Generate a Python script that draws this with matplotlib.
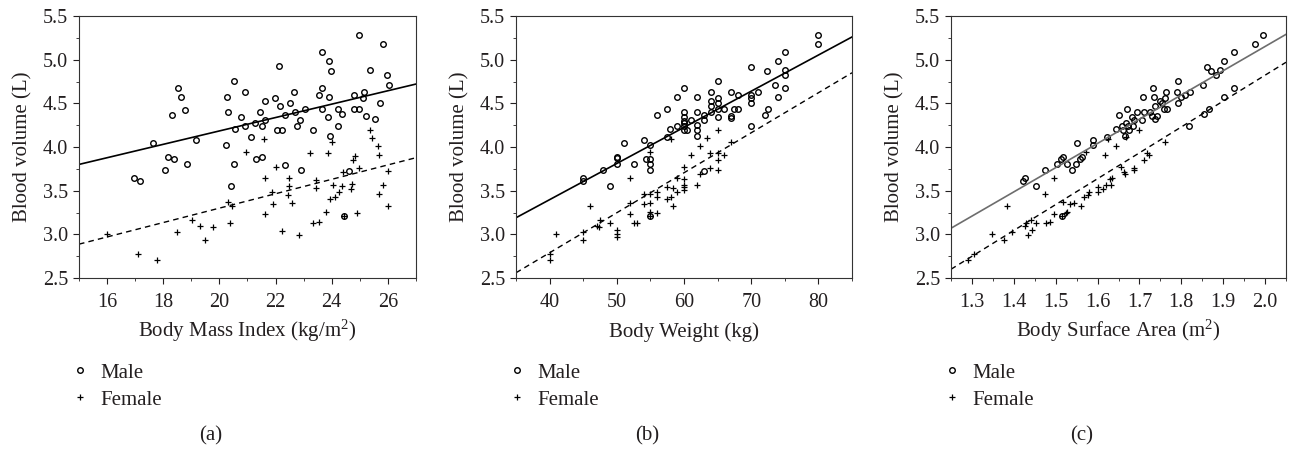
import numpy as np
import matplotlib
matplotlib.use('Agg')
import matplotlib.pyplot as plt
from matplotlib.lines import Line2D
from matplotlib.ticker import MultipleLocator, FormatStrFormatter

plt.rcParams['font.family'] = ['Liberation Serif', 'DejaVu Serif']
plt.rcParams['mathtext.fontset'] = 'custom'
plt.rcParams['mathtext.rm'] = 'Liberation Serif'
plt.rcParams['mathtext.it'] = 'Liberation Serif:italic'
textcol = '#231f20'

# (a) body mass index
bmi_male = [16.95, 17.16, 17.65, 18.08, 18.16, 18.30, 18.37, 18.54, 18.64, 18.79, 18.83, 19.15,
            20.22, 20.26, 20.30, 20.41, 20.52, 20.52, 20.57, 20.77, 20.92, 20.92, 21.13, 21.27,
            21.30, 21.46, 21.50, 21.53, 21.63, 21.64, 21.99, 22.06, 22.11, 22.16, 22.24, 22.33,
            22.33, 22.50, 22.65, 22.69, 22.77, 22.88, 22.91, 23.04, 23.34, 23.54, 23.67, 23.67,
            23.67, 23.87, 23.90, 23.90, 23.93, 23.96, 24.23, 24.23, 24.35, 24.45, 24.61, 24.80,
            24.80, 24.98, 24.98, 25.10, 25.16, 25.23, 25.36, 25.54, 25.72, 25.84, 25.95, 26.05]
bv_male_a = [3.64, 3.61, 4.05, 3.74, 3.89, 4.37, 3.86, 4.68, 4.57, 4.42, 3.80, 4.08,
             4.02, 4.57, 4.40, 3.55, 4.76, 3.80, 4.21, 4.34, 4.24, 4.63, 4.11, 4.27,
             3.86, 4.40, 3.88, 4.24, 4.31, 4.53, 4.56, 4.19, 4.93, 4.47, 4.20, 4.37,
             3.79, 4.50, 4.63, 4.40, 4.24, 4.31, 3.74, 4.44, 4.19, 4.60, 5.09, 4.67,
             4.44, 4.34, 4.99, 4.57, 4.13, 4.87, 4.43, 4.24, 4.38, 3.21, 3.73, 4.60,
             4.43, 5.28, 4.44, 4.56, 4.63, 4.35, 4.88, 4.32, 4.50, 5.18, 4.82, 4.71]
bmi_female = [16.01, 17.09, 17.78, 18.49, 19.04, 19.32, 19.48, 19.78, 20.32, 20.39, 20.44, 20.96,
              21.57, 21.64, 21.64, 21.89, 21.91, 22.03, 22.22, 22.45, 22.48, 22.48, 22.59, 22.83,
              23.22, 23.34, 23.43, 23.43, 23.55, 23.79, 23.87, 23.93, 24.02, 24.05, 24.13, 24.25,
              24.35, 24.41, 24.45, 24.67, 24.73, 24.74, 24.84, 24.90, 24.98, 25.36, 25.42, 25.66,
              25.70, 25.69, 25.82, 26.00, 26.00]
bv_female_a = [3.00, 2.78, 2.71, 3.03, 3.16, 3.09, 2.93, 3.08, 3.37, 3.13, 3.32, 3.94,
               4.09, 3.64, 3.23, 3.49, 3.35, 3.77, 3.04, 3.45, 3.64, 3.55, 3.36, 2.99,
               3.93, 3.13, 3.62, 3.53, 3.14, 3.26, 3.93, 3.41, 4.06, 3.57, 3.43, 3.48,
               3.55, 3.71, 3.21, 3.52, 3.58, 3.85, 3.90, 3.24, 3.76, 4.20, 4.10, 4.01,
               3.91, 3.46, 3.56, 3.73, 3.32]

# (b) body weight
bw_male = [45, 45, 48, 49, 50, 50, 50, 51, 52.5, 54, 54.4, 55, 55, 55, 55, 55,
           56, 57.4, 57.4, 57.9, 58.9, 58.9, 60, 60, 60, 60, 60, 60, 60, 60.4, 61,
           62, 62, 62, 62, 62, 63, 63, 63, 64, 64, 64, 64, 65, 65, 65, 65, 65, 66,
           67, 67, 67, 67.5, 68, 68, 70, 70, 70, 70, 70, 71, 72, 72.5, 72.4, 73.5,
           74, 74, 75, 75, 75, 75, 80, 80]
bv_male_b = [3.64, 3.61, 3.74, 3.55, 3.80, 3.87, 3.89, 4.05, 3.80, 4.08, 3.86, 4.02, 3.86, 3.80, 3.74, 3.21,
             4.37, 4.43, 4.11, 4.21, 4.57, 4.24, 4.68, 4.40, 4.34, 4.30, 4.27, 4.24, 4.20, 4.20, 4.31,
             4.57, 4.40, 4.25, 4.19, 4.13, 4.37, 4.31, 3.73, 4.63, 4.53, 4.47, 4.40, 4.76, 4.56, 4.50, 4.44, 4.34, 4.44,
             4.63, 4.36, 4.33, 4.43, 4.60, 4.44, 4.92, 4.60, 4.56, 4.50, 4.24, 4.63, 4.37, 4.43, 4.87, 4.71,
             4.99, 4.57, 5.09, 4.88, 4.82, 4.67, 5.28, 5.18]
bw_female = [40, 40, 41, 45, 45, 46, 47, 47.4, 47.5, 49, 50, 50, 50, 52, 52, 52, 52.5, 53,
             54, 54, 55, 55, 55, 55, 55, 56, 56, 56, 57.4, 57.5, 58, 58, 58.4, 58.4, 59, 59,
             60, 60, 60, 60, 60, 61, 62, 62.4, 62.4, 63.4, 63.9, 63.9, 65, 65, 65, 65, 66, 67]
bv_female_b = [2.78, 2.71, 3.00, 3.03, 2.93, 3.32, 3.09, 3.08, 3.16, 3.13, 3.05, 3.00, 2.97, 3.64, 3.36, 3.23, 3.13, 3.13,
               3.46, 3.35, 3.94, 3.46, 3.36, 3.26, 3.21, 3.49, 3.43, 3.24, 3.54, 3.41, 4.09, 3.43, 3.53, 3.32, 3.49, 3.64,
               3.77, 3.63, 3.57, 3.54, 3.51, 3.91, 3.56, 4.01, 3.69, 4.10, 3.93, 3.76, 4.20, 3.93, 3.85, 3.74, 3.91, 4.06]

# (c) body surface area
bsa_male = [1.422, 1.426, 1.453, 1.474, 1.504, 1.512, 1.518, 1.527, 1.514, 1.539, 1.549, 1.552,
            1.557, 1.564, 1.588, 1.588, 1.623, 1.645, 1.650, 1.659, 1.661, 1.666, 1.669, 1.671,
            1.675, 1.673, 1.683, 1.685, 1.687, 1.693, 1.706, 1.709, 1.712, 1.726, 1.730, 1.732,
            1.735, 1.738, 1.736, 1.741, 1.748, 1.753, 1.758, 1.762, 1.764, 1.766, 1.790, 1.792,
            1.792, 1.800, 1.808, 1.820, 1.818, 1.851, 1.855, 1.861, 1.866, 1.871, 1.883, 1.893,
            1.902, 1.902, 1.925, 1.925, 1.977, 1.994]
bv_male_c = [3.61, 3.64, 3.55, 3.74, 3.80, 3.86, 3.89, 3.80, 3.21, 3.74, 3.80, 4.05,
             3.86, 3.88, 4.08, 4.02, 4.11, 4.21, 4.37, 4.24, 4.19, 4.13, 4.28, 4.43,
             4.19, 4.24, 4.34, 4.24, 4.31, 4.40, 4.31, 4.57, 4.40, 4.40, 4.35, 4.67,
             4.57, 4.47, 4.32, 4.35, 4.53, 4.50, 4.44, 4.56, 4.63, 4.44, 4.63, 4.76,
             4.50, 4.57, 4.60, 4.63, 4.24, 4.71, 4.38, 4.92, 4.43, 4.87, 4.82, 4.88,
             4.99, 4.57, 5.09, 4.67, 5.18, 5.28]
bsa_female = [1.290, 1.304, 1.349, 1.377, 1.383, 1.396, 1.426, 1.428, 1.433, 1.442, 1.444, 1.452,
              1.475, 1.478, 1.486, 1.496, 1.496, 1.514, 1.518, 1.524, 1.528, 1.534, 1.543, 1.561,
              1.567, 1.573, 1.576, 1.579, 1.601, 1.601, 1.613, 1.618, 1.619, 1.625, 1.629, 1.632,
              1.634, 1.645, 1.657, 1.663, 1.665, 1.669, 1.686, 1.687, 1.700, 1.710, 1.718, 1.724, 1.762]
bv_female_c = [2.71, 2.78, 3.00, 2.93, 3.32, 3.03, 3.09, 3.13, 2.99, 3.16, 3.05, 3.13,
               3.46, 3.13, 3.14, 3.64, 3.23, 3.21, 3.37, 3.24, 3.26, 3.35, 3.36, 3.32,
               3.43, 3.94, 3.45, 3.49, 3.49, 3.54, 3.52, 3.91, 3.56, 4.09, 3.63, 3.56,
               3.64, 4.01, 3.77, 3.71, 3.69, 4.11, 3.76, 3.74, 4.20, 3.85, 3.93, 3.91, 4.06]

# regression lines: (intercept, slope)
fit_male = [(2.65, 0.0767), (1.741, 0.0414), (-0.399, 2.775)]
fit_female = [(1.65, 0.0825), (0.957, 0.0458), (-1.103, 2.9625)]

xlabels = ['Body Mass Index (kg/m$^2$)', 'Body Weight (kg)', 'Body Surface Area (m$^2$)']
sublabels = ['(a)', '(b)', '(c)']
xlims = [(15, 27), (35, 85), (1.25, 2.05)]
xticks = [[16, 18, 20, 22, 24, 26], [40, 50, 60, 70, 80],
          [1.3, 1.4, 1.5, 1.6, 1.7, 1.8, 1.9, 2.0]]
xminor = [1, 5, 0.05]
xfmt = ['%d', '%d', '%.1f']
male_line_colors = ['black', 'black', '#6d6d6d']

male_x = [bmi_male, bw_male, bsa_male]
male_y = [bv_male_a, bv_male_b, bv_male_c]
female_x = [bmi_female, bw_female, bsa_female]
female_y = [bv_female_a, bv_female_b, bv_female_c]

fig = plt.figure(figsize=(12.93, 4.51), dpi=100)
lefts = [79, 516, 951]
widths = [337, 336, 335]

for i in range(3):
    ax = fig.add_axes([lefts[i] / 1293, 1 - 278 / 451, widths[i] / 1293, 262 / 451])
    ax.plot(male_x[i], male_y[i], linestyle='none', marker='o', markersize=4,
            markerfacecolor='none', markeredgecolor='black', markeredgewidth=1.0)
    ax.plot(female_x[i], female_y[i], linestyle='none', marker='+', markersize=5,
            color='black', markeredgewidth=0.9)
    xs = np.array(xlims[i])
    b0, b1 = fit_male[i]
    ax.plot(xs, b0 + b1 * xs, color=male_line_colors[i], lw=1.2)
    b0, b1 = fit_female[i]
    ax.plot(xs, b0 + b1 * xs, color='black', lw=1.0, linestyle=(0, (4, 3)))

    ax.set_xlim(xlims[i])
    ax.set_ylim(2.5, 5.5)
    ax.set_xticks(xticks[i])
    ax.xaxis.set_minor_locator(MultipleLocator(xminor[i]))
    ax.xaxis.set_major_formatter(FormatStrFormatter(xfmt[i]))
    ax.yaxis.set_major_locator(MultipleLocator(0.5))
    ax.yaxis.set_minor_locator(MultipleLocator(0.25))
    ax.yaxis.set_major_formatter(FormatStrFormatter('%.1f'))
    ax.tick_params(which='major', direction='out', length=4, width=0.8,
                   labelsize=14.5, colors=textcol, pad=4)
    ax.tick_params(axis='x', which='major', pad=7)
    ax.tick_params(which='minor', direction='out', length=2.5, width=0.6, colors=textcol)
    for s in ax.spines.values():
        s.set_linewidth(0.8)
        s.set_color('#333333')

    ax.set_xlabel(xlabels[i], fontsize=15, color=textcol, va='baseline')
    ax.xaxis.set_label_coords(0.5, -0.225)
    ax.set_ylabel('Blood volume (L)', fontsize=15, color=textcol, labelpad=7)

    handles = [Line2D([], [], linestyle='none', marker='o', markersize=4, markerfacecolor='none',
                      markeredgecolor='black', markeredgewidth=1.0),
               Line2D([], [], linestyle='none', marker='+', markersize=5, color='black',
                      markeredgewidth=0.9)]
    ax.legend(handles, ['Male', 'Female'], loc='upper left', bbox_to_anchor=(-0.06, -0.285),
              frameon=False, fontsize=15, handlelength=1.0, handletextpad=0.5,
              labelspacing=0.35, borderpad=0, labelcolor=textcol)

    cx = (lefts[i] + widths[i] / 2 - 37) / 1293
    fig.text(cx, 1 - 436 / 451, sublabels[i], ha='center', va='center', fontsize=15, color=textcol)

fig.savefig('out.png', dpi=100)
